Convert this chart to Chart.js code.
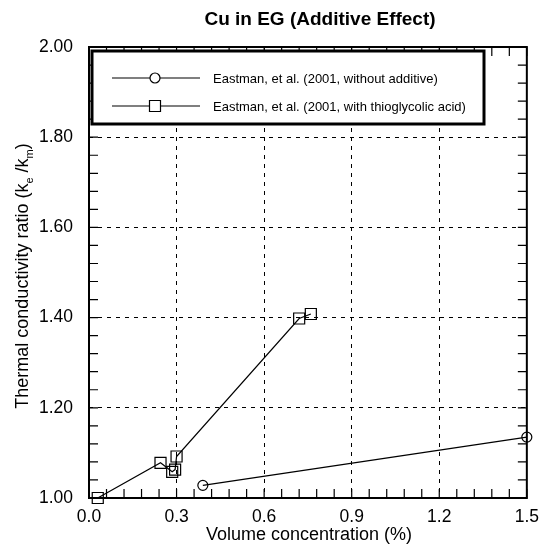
<!DOCTYPE html>
<html><head><meta charset="utf-8">
<script src="https://cdn.jsdelivr.net/npm/chart.js@4.4.0/dist/chart.umd.min.js"></script>
<style>html,body{margin:0;padding:0;background:#fff}#wrap{width:548px;height:552px}</style>
</head><body><div id="wrap"><canvas id="c"></canvas></div>
<script>
const chartTitle = "Cu in EG (Additive Effect)";
const xTitle = "Volume concentration (%)";
const yTitleParts = ["Thermal conductivity ratio (k", "e", " /k", "m", ")"];
const seriesNames = ["Eastman, et al. (2001, without additive)", "Eastman, et al. (2001, with thioglycolic acid)"];
const withoutX = [0.39, 1.5];
const withoutY = [1.028, 1.135];
const withX = [0.03, 0.245, 0.285, 0.295, 0.30, 0.72, 0.76];
const withY = [1.0, 1.078, 1.058, 1.063, 1.092, 1.398, 1.408];
const xTickLabels = ["0.0","0.3","0.6","0.9","1.2","1.5"];
const yTickLabels = ["1.00","1.20","1.40","1.60","1.80","2.00"];

const FONT = "'Liberation Sans', Arial, Helvetica, sans-serif";
const toPts = (xs, ys) => xs.map((x, i) => ({x, y: ys[i]}));
const isMajor = (v, step) => Math.abs(v/step - Math.round(v/step)) < 1e-6;

const decor = {
  id: 'decor',
  afterDraw(chart) {
    const {ctx, chartArea: a, scales: {x, y}} = chart;
    ctx.save();
    ctx.strokeStyle = '#000';
    ctx.lineWidth = 1.2;
    const tl = 9;
    x.ticks.forEach(t => {
      const px = x.getPixelForValue(t.value);
      ctx.beginPath();
      ctx.moveTo(px, a.bottom); ctx.lineTo(px, a.bottom - tl);
      ctx.moveTo(px, a.top); ctx.lineTo(px, a.top + tl);
      ctx.stroke();
    });
    y.ticks.forEach(t => {
      const py = y.getPixelForValue(t.value);
      ctx.beginPath();
      ctx.moveTo(a.left, py); ctx.lineTo(a.left + tl, py);
      ctx.moveTo(a.right, py); ctx.lineTo(a.right - tl, py);
      ctx.stroke();
    });
    ctx.lineWidth = 2;
    ctx.strokeRect(a.left, a.top, a.right - a.left, a.bottom - a.top);
    // legend
    const lx = 92, ly = 51, lw = 392, lh = 73;
    ctx.fillStyle = '#fff';
    ctx.fillRect(lx, ly, lw, lh);
    ctx.lineWidth = 3;
    ctx.strokeRect(lx, ly, lw, lh);
    ctx.font = "13px " + FONT;
    ctx.textBaseline = 'middle';
    ctx.textAlign = 'left';
    const rows = [78, 106];
    rows.forEach((ry, i) => {
      ctx.lineWidth = 1.2;
      ctx.beginPath(); ctx.moveTo(112, ry); ctx.lineTo(200, ry); ctx.stroke();
      const mx = 155;
      ctx.beginPath();
      if (i === 0) ctx.arc(mx, ry, 5, 0, Math.PI*2);
      else ctx.rect(mx - 5.5, ry - 5.5, 11, 11);
      ctx.fillStyle = '#fff'; ctx.fill(); ctx.stroke();
      ctx.fillStyle = '#000';
      ctx.fillText(seriesNames[i], 213, ry + 1);
    });
    // title
    ctx.textBaseline = 'alphabetic';
    ctx.font = "bold 19px " + FONT;
    ctx.textAlign = 'center';
    ctx.fillText(chartTitle, 320, 25);
    // x title
    ctx.font = "18px " + FONT;
    ctx.fillText(xTitle, 309, 540);
    // y title with subscripts
    ctx.translate(28, 276);
    ctx.rotate(-Math.PI/2);
    const big = "18px " + FONT, small = "11px " + FONT;
    const widths = yTitleParts.map((s, i) => { ctx.font = (i % 2 ? small : big); return ctx.measureText(s).width; });
    const total = widths.reduce((p, c) => p + c, 0);
    let cx = -total/2;
    ctx.textAlign = 'left';
    yTitleParts.forEach((s, i) => {
      ctx.font = (i % 2 ? small : big);
      ctx.fillText(s, cx, i % 2 ? 5 : 0);
      cx += widths[i];
    });
    ctx.restore();
  }
};

new Chart(document.getElementById('c'), {
  type: 'scatter',
  data: {
    datasets: [
      { label: seriesNames[0], data: toPts(withoutX, withoutY), showLine: true, clip: false,
        borderColor: '#000', borderWidth: 1.2, pointStyle: 'circle', pointRadius: 5,
        pointBorderColor: '#000', pointBackgroundColor: 'rgba(0,0,0,0)', pointBorderWidth: 1.2 },
      { label: seriesNames[1], data: toPts(withX, withY), showLine: true, clip: false,
        borderColor: '#000', borderWidth: 1.2, pointStyle: 'rect', pointRadius: 7.8,
        pointBorderColor: '#000', pointBackgroundColor: 'rgba(0,0,0,0)', pointBorderWidth: 1.2 }
    ]
  },
  options: {
    responsive: true, maintainAspectRatio: false, animation: false,
    layout: { padding: { left: 0, right: 11, top: 47, bottom: 0 } },
    plugins: { legend: { display: false }, title: { display: false }, tooltip: { enabled: false } },
    scales: {
      x: {
        type: 'linear', min: 0, max: 1.5,
        afterFit: s => { s.height = 54; },
        ticks: { stepSize: 0.06, autoSkip: false, maxRotation: 0, padding: 9, color: '#000',
          font: { family: FONT, size: 17.5 },
          callback: v => isMajor(v, 0.3) ? xTickLabels[Math.round(v/0.3)] : '' },
        grid: { drawTicks: false,
          color: c => (c.tick && isMajor(c.tick.value, 0.3) && c.tick.value > 0.01 && c.tick.value < 1.49) ? '#000' : 'rgba(0,0,0,0)',
          lineWidth: 1 },
        border: { display: false, dash: [4, 5] }
      },
      y: {
        type: 'linear', min: 1, max: 2,
        afterFit: s => { s.width = 89; },
        ticks: { stepSize: 0.04, autoSkip: false, padding: 16, color: '#000',
          font: { family: FONT, size: 17.5 },
          callback: v => isMajor(v, 0.2) ? yTickLabels[Math.round((v-1)/0.2)] : '' },
        grid: { drawTicks: false,
          color: c => (c.tick && isMajor(c.tick.value, 0.2) && c.tick.value > 1.01 && c.tick.value < 1.99) ? '#000' : 'rgba(0,0,0,0)',
          lineWidth: 1 },
        border: { display: false, dash: [4, 5] }
      }
    }
  },
  plugins: [decor]
});
</script></body></html>
